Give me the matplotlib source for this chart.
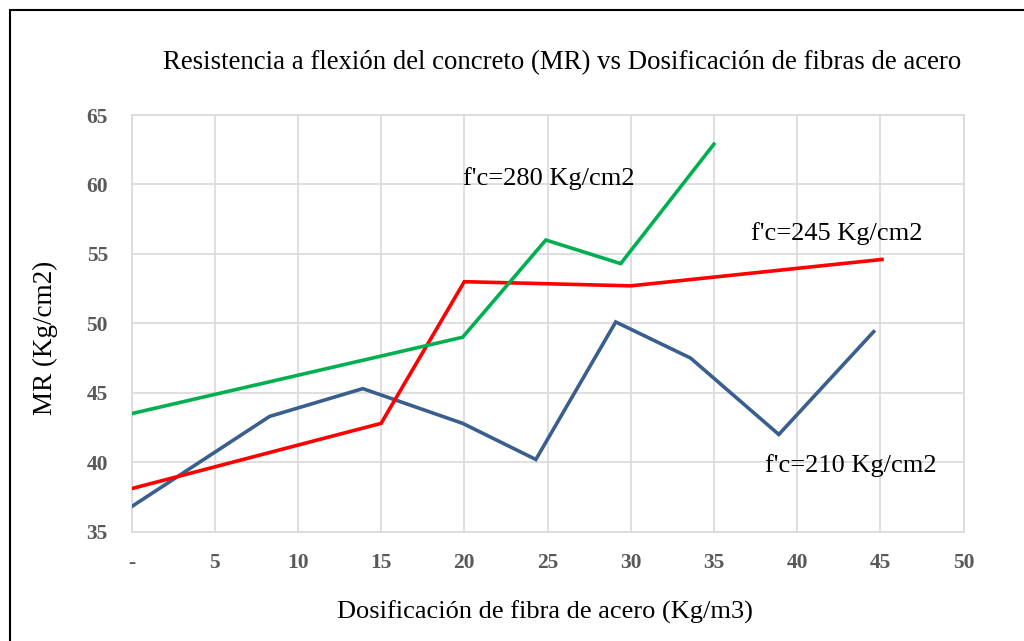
import matplotlib
matplotlib.use("Agg")
import matplotlib.pyplot as plt
from matplotlib.patches import Rectangle

# Data
x_210 = [0, 8.3, 13.9, 19.9, 24.3, 29.1, 33.6, 38.9, 44.6]
y_210 = [36.8, 43.3, 45.3, 42.8, 40.2, 50.1, 47.5, 42.0, 49.4]

x_245 = [0, 15.0, 20.0, 30.0, 45.1]
y_245 = [38.1, 42.8, 53.0, 52.7, 54.6]

x_280 = [0, 19.9, 24.9, 29.4, 35.0]
y_280 = [43.5, 49.0, 56.0, 54.3, 62.9]

x_ticks = [0, 5, 10, 15, 20, 25, 30, 35, 40, 45, 50]
x_tick_labels = ["-", "5", "10", "15", "20", "25", "30", "35", "40", "45", "50"]
y_ticks = [35, 40, 45, 50, 55, 60, 65]

labels = ["f'c=210 Kg/cm2", "f'c=245 Kg/cm2", "f'c=280 Kg/cm2"]
label_pos = [(38.1, 39.8), (37.2, 56.5), (19.9, 60.4)]

title = "Resistencia a flexión del concreto (MR) vs Dosificación de fibras de acero"
xlabel = "Dosificación de fibra de acero (Kg/m3)"
ylabel = "MR (Kg/cm2)"

plt.rcParams['font.family'] = ['Liberation Serif', 'DejaVu Serif']

W, H = 1024, 641
fig = plt.figure(figsize=(W / 100, H / 100), dpi=100)
ax = fig.add_axes([131.5 / W, (H - 531.7) / H, (963.5 - 131.5) / W, (531.7 - 115) / H])

c210 = '#3A5F8F'
c245 = '#FF0000'
c280 = '#00B050'
lw = 2.6
ax.plot(x_210, y_210, color=c210, lw=lw, solid_joinstyle='miter', zorder=3)
ax.plot(x_245, y_245, color=c245, lw=lw, solid_joinstyle='miter', zorder=3)
ax.plot(x_280, y_280, color=c280, lw=lw, solid_joinstyle='miter', zorder=3)

ax.set_xlim(0, 50)
ax.set_ylim(35, 65)
ax.set_xticks(x_ticks)
ax.set_xticklabels(x_tick_labels)
ax.set_yticks(y_ticks)
ax.grid(True, color='#D9D9D9', lw=1.2)
ax.set_axisbelow(True)
for s in ax.spines.values():
    s.set_color('#D9D9D9')
    s.set_linewidth(1.2)
ax.tick_params(length=0, labelsize=15.5, labelcolor='#595959')
for t in ax.get_xticklabels() + ax.get_yticklabels():
    t.set_fontweight('bold')
ax.tick_params(axis='x', pad=15)
ax.tick_params(axis='y', pad=17)

for (lx, ly), txt in zip(label_pos, labels):
    ax.text(lx, ly, txt, fontsize=19, color='black', va='center', ha='left')

fig.text(562 / W, 1 - 63 / H, title, fontsize=19.3, ha='center', va='center')
fig.text(545 / W, 1 - 612 / H, xlabel, fontsize=19, ha='center', va='center')
fig.text(45 / W, 1 - 338 / H, ylabel, fontsize=19.5, ha='center', va='center', rotation=90)

fig.patches.append(Rectangle((10 / W, -0.1), 1.2, 1 - 10 / H + 0.1, transform=fig.transFigure,
                             fill=False, edgecolor='black', lw=1.5))

fig.savefig('out.png', dpi=100)
